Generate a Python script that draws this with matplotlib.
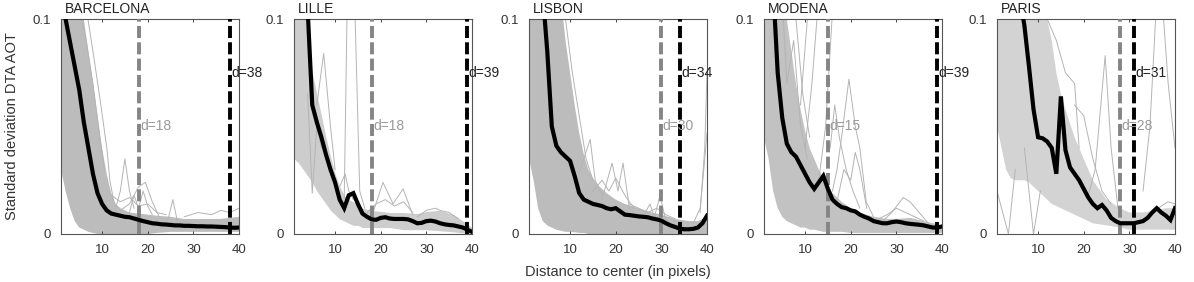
import numpy as np
import matplotlib
matplotlib.use("Agg")
import matplotlib.pyplot as plt

plt.rcParams['font.family'] = ['Liberation Sans', 'DejaVu Sans']
plt.rcParams['font.size'] = 9

CITIES = ["BARCELONA", "LILLE", "LISBON", "MODENA", "PARIS"]
D_GRAY = [18, 18, 30, 15, 28]
D_BLACK = [38, 39, 34, 39, 31]

# distance to center (pixels) for the mean curves
DIST = np.arange(1, 41)

MEAN_BARCELONA = [0.115, 0.100, 0.089, 0.078, 0.067, 0.052, 0.040, 0.028, 0.019, 0.014,
                  0.011, 0.0095, 0.009, 0.0085, 0.008, 0.0078, 0.0072, 0.0066, 0.006, 0.0055,
                  0.005, 0.0048, 0.0045, 0.0044, 0.0042, 0.004, 0.004, 0.0038, 0.0038, 0.0037,
                  0.0036, 0.0036, 0.0035, 0.0035, 0.0034, 0.0033, 0.0032, 0.003, 0.0029, 0.003]
MEAN_LILLE = [0.16, 0.14, 0.12, 0.104, 0.060, 0.052, 0.045, 0.037, 0.030, 0.024,
              0.016, 0.012, 0.018, 0.019, 0.014, 0.0095, 0.008, 0.0068, 0.0066, 0.0075,
              0.0078, 0.0072, 0.007, 0.007, 0.007, 0.0068, 0.006, 0.005, 0.0052, 0.006,
              0.0062, 0.0058, 0.005, 0.0045, 0.0042, 0.004, 0.0035, 0.003, 0.002, 0.001]
MEAN_LISBON = [0.16, 0.145, 0.13, 0.112, 0.085, 0.050, 0.041, 0.038, 0.036, 0.034,
               0.027, 0.019, 0.016, 0.015, 0.014, 0.0135, 0.013, 0.012, 0.0115, 0.012,
               0.0105, 0.009, 0.0088, 0.0085, 0.0082, 0.008, 0.0078, 0.0072, 0.0068, 0.0062,
               0.005, 0.004, 0.0033, 0.0025, 0.0022, 0.0022, 0.0024, 0.003, 0.005, 0.0085]
MEAN_MODENA = [0.16, 0.14, 0.115, 0.075, 0.054, 0.042, 0.038, 0.036, 0.032, 0.028,
               0.024, 0.021, 0.024, 0.027, 0.021, 0.016, 0.014, 0.0125, 0.012, 0.011,
               0.0105, 0.009, 0.008, 0.0072, 0.006, 0.0055, 0.005, 0.005, 0.0055, 0.0058,
               0.0055, 0.005, 0.0047, 0.0045, 0.0043, 0.004, 0.0035, 0.003, 0.003, 0.0035]
MEAN_PARIS = [0.2, 0.18, 0.16, 0.14, 0.125, 0.11, 0.097, 0.078, 0.058, 0.045,
              0.0445, 0.043, 0.040, 0.028, 0.064, 0.039, 0.031, 0.028, 0.025, 0.021,
              0.017, 0.014, 0.012, 0.0135, 0.011, 0.0075, 0.006, 0.005, 0.005, 0.005,
              0.005, 0.0055, 0.006, 0.0075, 0.010, 0.012, 0.010, 0.0085, 0.0065, 0.012]

# envelope of the bulk of the individual gray curves
BAND_X = [1, 2, 3, 4, 5, 6, 7, 8, 9, 10, 11, 12, 13, 14, 15, 16, 18, 20, 22, 25, 28, 30, 33, 36, 38, 40]

BAND_HI_BARCELONA = [0.15, 0.15, 0.14, 0.13, 0.12, 0.10, 0.085, 0.07, 0.055, 0.04, 0.028, 0.019, 0.014,
                     0.012, 0.011, 0.010, 0.0095, 0.009, 0.0085, 0.008, 0.007, 0.007, 0.007, 0.007, 0.0075, 0.008]
BAND_LO_BARCELONA = [0.03, 0.02, 0.012, 0.006, 0.003, 0.002, 0.001, 0.0005, 0, 0, 0, 0, 0,
                     0, 0, 0, 0, 0, 0.0005, 0.001, 0.001, 0.001, 0.001, 0.001, 0.001, 0.001]
BAND_HI_LILLE = [0.12, 0.12, 0.11, 0.09, 0.075, 0.065, 0.055, 0.045, 0.036, 0.028, 0.022, 0.018, 0.016,
                 0.015, 0.013, 0.012, 0.011, 0.0105, 0.01, 0.01, 0.0095, 0.0105, 0.011, 0.009, 0.006, 0.003]
BAND_LO_LILLE = [0.035, 0.033, 0.03, 0.027, 0.024, 0.02, 0.017, 0.014, 0.011, 0.009, 0.007, 0.006, 0.005,
                 0.004, 0.004, 0.003, 0.003, 0.003, 0.003, 0.002, 0.002, 0.002, 0.0015, 0.001, 0.0005, 0]
BAND_HI_LISBON = [0.15, 0.15, 0.15, 0.15, 0.15, 0.15, 0.15, 0.11, 0.09, 0.075, 0.06, 0.047, 0.037,
                  0.03, 0.026, 0.023, 0.019, 0.016, 0.014, 0.012, 0.01, 0.009, 0.007, 0.006, 0.006, 0.008]
BAND_LO_LISBON = [0.035, 0.025, 0.012, 0.006, 0.004, 0.003, 0.002, 0.0015, 0.001, 0.001, 0.0008, 0.0005, 0.0005,
                  0, 0, 0, 0, 0, 0, 0, 0, 0, 0, 0, 0, 0]
BAND_HI_MODENA = [0.15, 0.15, 0.15, 0.15, 0.12, 0.10, 0.085, 0.07, 0.058, 0.048, 0.04, 0.035, 0.03,
                  0.026, 0.022, 0.019, 0.015, 0.012, 0.01, 0.008, 0.007, 0.007, 0.0075, 0.006, 0.005, 0.004]
BAND_LO_MODENA = [0.045, 0.035, 0.02, 0.012, 0.008, 0.006, 0.005, 0.004, 0.003, 0.003, 0.002, 0.002, 0.0015,
                  0.001, 0.001, 0.001, 0.001, 0.0005, 0.0005, 0.0005, 0.0005, 0.0005, 0.0005, 0.0005, 0.0005, 0.0005]
BAND_HI_PARIS = [0.15, 0.15, 0.15, 0.15, 0.15, 0.15, 0.15, 0.14, 0.13, 0.12, 0.11, 0.10, 0.09,
                 0.075, 0.065, 0.058, 0.045, 0.035, 0.025, 0.016, 0.012, 0.01, 0.01, 0.011, 0.012, 0.012]
BAND_LO_PARIS = [0.05, 0.04, 0.03, 0.026, 0.025, 0.025, 0.025, 0.024, 0.022, 0.02, 0.018, 0.016, 0.014,
                 0.013, 0.012, 0.011, 0.009, 0.007, 0.005, 0.004, 0.003, 0.002, 0.002, 0.002, 0.002, 0.002]

# individual gray curves that stand out from the bulk: (x, y)
OUT_BARCELONA = [
    ([6.9, 8, 9.6, 11.1, 11.7, 12.5], [0.1, 0.085, 0.062, 0.039, 0.025, 0.016]),
    ([5.5, 6.5, 8, 9.5, 10.5], [0.1, 0.09, 0.07, 0.045, 0.03]),
    ([13, 14, 15, 16, 17], [0.012, 0.02, 0.035, 0.02, 0.012]),
    ([14, 16, 18, 19.5, 21, 22.5], [0.011, 0.014, 0.022, 0.024, 0.015, 0.008]),
    ([16, 17, 18, 19, 20, 21], [0.01, 0.018, 0.012, 0.02, 0.013, 0.009]),
    ([24.5, 25.5, 26.5], [0.007, 0.016, 0.006]),
    ([12, 14, 16, 18, 20, 22, 24], [0.018, 0.015, 0.017, 0.013, 0.014, 0.01, 0.009]),
    ([28, 31, 34, 36, 38, 40], [0.008, 0.01, 0.009, 0.011, 0.01, 0.012]),
]
OUT_LILLE = [
    ([12, 12.6, 13.5, 14.4, 15.4, 16.5], [0.016, 0.1, 0.15, 0.1, 0.02, 0.012]),
    ([6, 7.5, 9, 10], [0.06, 0.084, 0.05, 0.03]),
    ([4, 5, 6, 7], [0.065, 0.019, 0.05, 0.04]),
    ([18, 20.5, 22.7, 24.9, 27], [0.008, 0.024, 0.014, 0.021, 0.009]),
    ([17, 19, 21, 23, 25, 27], [0.01, 0.014, 0.016, 0.013, 0.015, 0.01]),
    ([28, 30, 32, 33, 35, 37], [0.008, 0.011, 0.012, 0.011, 0.01, 0.007]),
    ([11, 12.2, 13, 14], [0.022, 0.028, 0.02, 0.016]),
]
OUT_LISBON = [
    ([9, 10.5, 12, 13.5, 15], [0.1, 0.075, 0.055, 0.035, 0.025]),
    ([12, 13, 14.4, 15.5, 17], [0.028, 0.035, 0.044, 0.025, 0.018]),
    ([17, 19.2, 20.5, 21.6, 23], [0.016, 0.033, 0.02, 0.033, 0.012]),
    ([15, 17, 18.5, 20, 22, 24], [0.02, 0.025, 0.02, 0.026, 0.018, 0.012]),
    ([26, 27.5, 28.5, 29.7, 31], [0.008, 0.014, 0.008, 0.018, 0.006]),
    ([37, 38.5, 39.3, 40], [0.005, 0.012, 0.03, 0.047]),
    ([38.5, 39.5, 40], [0.01, 0.04, 0.075]),
    ([23, 25, 27, 29, 31, 33], [0.014, 0.012, 0.01, 0.012, 0.009, 0.007]),
]
OUT_MODENA = [
    ([9, 10.5, 11.5], [0.06, 0.1, 0.15]),
    ([10, 11.5, 12.6, 13.3], [0.04, 0.07, 0.1, 0.14]),
    ([13, 14.5, 15.9, 16.5], [0.025, 0.05, 0.1, 0.13]),
    ([16, 17, 18, 19.6, 21, 22, 23.4, 25], [0.02, 0.03, 0.045, 0.072, 0.05, 0.04, 0.015, 0.008]),
    ([17, 18.5, 20, 21, 22, 23.5], [0.015, 0.03, 0.025, 0.038, 0.03, 0.012]),
    ([15.5, 16.5, 17.5, 19, 20.5, 22], [0.04, 0.06, 0.045, 0.03, 0.02, 0.012]),
    ([27, 29, 31.5, 33, 35, 37], [0.006, 0.01, 0.017, 0.015, 0.01, 0.005]),
    ([26, 28, 30, 32, 34, 36], [0.007, 0.009, 0.012, 0.01, 0.008, 0.006]),
    ([4, 6, 7.5, 9, 10.5], [0.15, 0.07, 0.09, 0.05, 0.035]),
    ([6, 8, 9.5, 11], [0.15, 0.1, 0.065, 0.045]),
]
OUT_PARIS = [
    ([1, 3.5, 5], [0.02, 0.0, 0.03]),
    ([7, 9, 10.5], [0.04, 0.0, 0.02]),
    ([21, 22.5, 24.7, 26, 27.5], [0.018, 0.03, 0.083, 0.04, 0.012]),
    ([33, 34.5, 36, 37], [0.02, 0.05, 0.11, 0.15]),
    ([36, 37.5, 38.5, 40], [0.15, 0.1, 0.07, 0.04]),
    ([35, 37, 38.5, 40], [0.01, 0.013, 0.015, 0.014]),
    ([18, 20, 22, 24, 26], [0.06, 0.055, 0.035, 0.02, 0.014]),
    ([12, 14, 16, 18, 19], [0.1, 0.09, 0.075, 0.07, 0.04]),
]

MEANS = [MEAN_BARCELONA, MEAN_LILLE, MEAN_LISBON, MEAN_MODENA, MEAN_PARIS]
BANDS_HI = [BAND_HI_BARCELONA, BAND_HI_LILLE, BAND_HI_LISBON, BAND_HI_MODENA, BAND_HI_PARIS]
BANDS_LO = [BAND_LO_BARCELONA, BAND_LO_LILLE, BAND_LO_LISBON, BAND_LO_MODENA, BAND_LO_PARIS]
OUTLIERS = [OUT_BARCELONA, OUT_LILLE, OUT_LISBON, OUT_MODENA, OUT_PARIS]

BAND_COLORS = ['#bcbcbc', '#cdcdcd', '#bcbcbc', '#c2c2c2', '#d3d3d3']
LEFTS_PX = [61, 294, 529, 764, 997]

W, H = 1194, 282
fig = plt.figure(figsize=(W / 100, H / 100), dpi=100)

for i, city in enumerate(CITIES):
    ax = fig.add_axes([LEFTS_PX[i] / W, 48 / H, 178 / W, 215 / H])

    ax.fill_between(BAND_X, BANDS_LO[i], BANDS_HI[i], color=BAND_COLORS[i], lw=0, zorder=1)
    for xs, ys in OUTLIERS[i]:
        ax.plot(xs, ys, color='#b4b4b4', lw=0.7, zorder=2)

    ax.axvline(D_GRAY[i], color='#858585', lw=2.8, dashes=(3.1, 1.1), zorder=3)
    ax.axvline(D_BLACK[i], color='black', lw=2.8, dashes=(3.1, 1.1), zorder=3)
    ax.plot(DIST, MEANS[i], color='black', lw=3, zorder=4, solid_joinstyle='miter')

    ax.text(D_GRAY[i] + 0.3, 0.05, "d=%d" % D_GRAY[i], color='#9a9a9a', fontsize=10,
            va='center', ha='left', clip_on=False, zorder=5)
    ax.text(D_BLACK[i] + 0.3, 0.075, "d=%d" % D_BLACK[i], color='#222222', fontsize=10,
            va='center', ha='left', clip_on=False, zorder=5)

    ax.text(0.022, 1.03, city, transform=ax.transAxes, ha='left', va='baseline',
            fontsize=10, color='#222222')

    ax.set_xlim(1, 40)
    ax.set_ylim(0, 0.1)
    ax.set_xticks([10, 20, 30, 40])
    ax.set_yticks([0, 0.1])
    ax.set_yticklabels(['0', '0.1'])
    ax.tick_params(direction='in', length=2.5, width=0.7, top=True, right=True,
                   labelsize=9.5, colors='#444444', labelcolor='#333333', pad=7)
    for sp in ax.spines.values():
        sp.set_color('#555555')
        sp.set_linewidth(0.8)

fig.text(12 / W, 1 - 126.5 / H, "Standard deviation DTA AOT", rotation=90,
         ha='center', va='center', fontsize=10.5, color='#333333')
fig.text(618 / W, 1 - 272 / H, "Distance to center (in pixels)",
         ha='center', va='center', fontsize=10.5, color='#333333')

fig.savefig("out.png", dpi=100)
